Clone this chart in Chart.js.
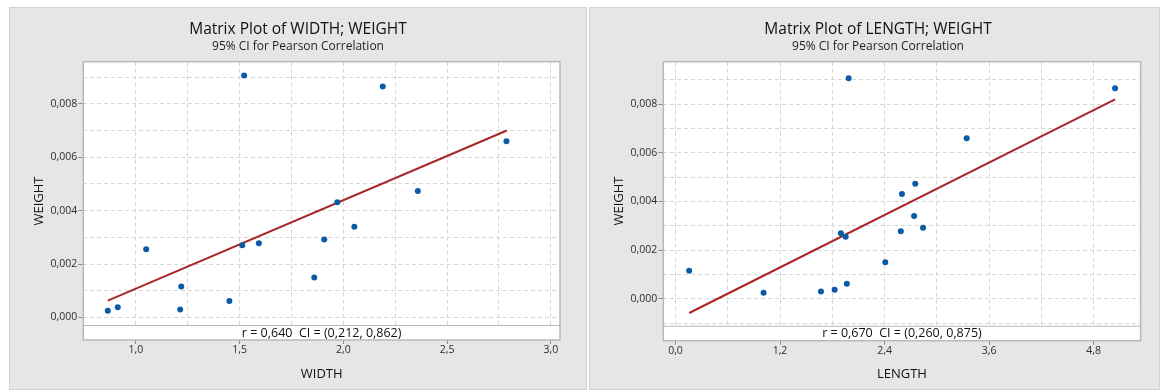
<!DOCTYPE html>
<html>
<head>
<meta charset="utf-8">
<script src="https://cdn.jsdelivr.net/npm/chart.js@4.4.1/dist/chart.umd.min.js"></script>
<style>
  body { margin: 0; background: #ffffff; }
  .panel {
    position: absolute;
    top: 7px;
    height: 383px;
    background: #e6e6e6;
    border: 1px solid #d2d2d2;
    box-sizing: border-box;
  }
  .panel canvas { position: absolute; top: -1px; left: -1px; }
</style>
</head>
<body>
<div class="panel" style="left:9px;width:578px;"><canvas id="width_weight" width="578" height="383"></canvas></div>
<div class="panel" style="left:589px;width:571px;"><canvas id="length_weight" width="571" height="383"></canvas></div>
<script>
// specimens
const weight = [0.00906, 0.00865, 0.00660, 0.00473, 0.00431, 0.00340, 0.00292, 0.00278,
                0.00270, 0.00255, 0.00150, 0.00116, 0.00062, 0.00030, 0.00038, 0.00025];
const width = [1.522, 2.190, 2.786, 2.359, 1.971, 2.053, 1.908, 1.593,
               1.513, 1.050, 1.860, 1.219, 1.451, 1.214, 0.913, 0.865];
const length = [1.988, 5.047, 3.343, 2.753, 2.600, 2.740, 2.842, 2.587,
                1.899, 1.954, 2.409, 0.157, 1.967, 1.670, 1.827, 1.011];

// fitted lines (end points)
const widthFitX = [0.865, 2.788];
const widthFitY = [0.00063, 0.00700];
const lengthFitX = [0.157, 5.047];
const lengthFitY = [-0.00058, 0.00819];

// tick labels
const weightTicks = [0.000, 0.002, 0.004, 0.006, 0.008];
const widthTicks = [1.0, 1.5, 2.0, 2.5, 3.0];
const lengthTicks = [0.0, 1.2, 2.4, 3.6, 4.8];

const FONT = "'Segoe UI', 'Open Sans', sans-serif";

function near(v, list) {
    return list.some(l => Math.abs(l - v) < 1e-9);
}

function gridValues(step, min, max) {
    const out = [];
    for (let i = Math.ceil(min / step - 1e-9); i * step <= max + 1e-12; i++) {
        out.push(+(i * step).toFixed(6));
    }
    return out;
}

const panelDecor = {
    id: 'panelDecor',
    beforeDraw(chart) {
        const {ctx, chartArea: a} = chart;
        ctx.save();
        ctx.fillStyle = '#ffffff';
        ctx.fillRect(a.left, a.top, a.right - a.left, a.bottom - a.top);
        ctx.restore();
    },
    beforeDatasetsDraw(chart, args, opts) {
        const {ctx, chartArea: a} = chart;
        const h = 15;
        ctx.save();
        ctx.fillStyle = '#ffffff';
        ctx.fillRect(a.left, a.bottom - h, a.right - a.left, h);
        ctx.strokeStyle = '#b8b8b8';
        ctx.lineWidth = 1;
        ctx.beginPath();
        ctx.moveTo(a.left, a.bottom - h + 0.5);
        ctx.lineTo(a.right, a.bottom - h + 0.5);
        ctx.stroke();
        ctx.fillStyle = '#111111';
        ctx.font = '12.5px ' + FONT;
        ctx.textAlign = 'center';
        ctx.textBaseline = 'middle';
        ctx.fillText(opts.stat, (a.left + a.right) / 2, a.bottom - h / 2 + 0.5);
        ctx.restore();
    },
    afterDraw(chart, args, opts) {
        const {ctx, chartArea: a} = chart;
        ctx.save();
        ctx.strokeStyle = '#b8b8b8';
        ctx.lineWidth = 1.5;
        ctx.strokeRect(a.left, a.top, a.right - a.left, a.bottom - a.top);

        ctx.textAlign = 'center';
        ctx.textBaseline = 'alphabetic';
        ctx.fillStyle = '#111111';
        ctx.font = '15.5px ' + FONT;
        ctx.fillText(opts.title, opts.titleX, 26.5);
        ctx.fillStyle = '#1e1e1e';
        ctx.font = '12px ' + FONT;
        ctx.fillText('95% CI for Pearson Correlation', opts.titleX, 42.5);

        ctx.fillStyle = '#111111';
        ctx.font = '13px ' + FONT;
        ctx.fillText(opts.xTitle, (a.left + a.right) / 2, a.bottom + 37.5);

        ctx.translate(30.5, 194);
        ctx.rotate(-Math.PI / 2);
        ctx.textBaseline = 'middle';
        ctx.fillText(opts.yTitle, 0, 0);
        ctx.restore();
    }
};

function makeChart(id, xs, fitX, fitY, xMin, xMax, xStep, xTicks, xDigits,
                   yMin, yMax, padRight, xHeight, labels) {
    const ctx = document.getElementById(id).getContext('2d');
    const points = xs.map((x, i) => ({x: x, y: weight[i]}));
    const fit = fitX.map((x, i) => ({x: x, y: fitY[i]}));

    return new Chart(ctx, {
        type: 'scatter',
        data: {
            datasets: [{
                data: points,
                backgroundColor: '#0b5aa8',
                borderWidth: 0,
                pointRadius: 3,
                pointHoverRadius: 3,
                order: 1
            }, {
                type: 'line',
                data: fit,
                borderColor: '#a8262a',
                borderWidth: 2,
                pointRadius: 0,
                fill: false,
                order: 2
            }]
        },
        options: {
            responsive: false,
            animation: false,
            layout: {padding: {left: 0, right: padRight, top: 54.7, bottom: 0}},
            plugins: {
                legend: {display: false},
                tooltip: {enabled: false},
                panelDecor: labels
            },
            scales: {
                x: {
                    type: 'linear',
                    min: xMin,
                    max: xMax,
                    border: {display: false, dash: [4, 3]},
                    afterFit: s => { s.height = xHeight; },
                    afterBuildTicks: s => {
                        s.ticks = gridValues(xStep, xMin, xMax).map(v => ({value: v}));
                    },
                    grid: {
                        color: '#d6d6d6',
                        tickLength: 4,
                        tickBorderDash: [],
                        tickColor: c => near(c.tick.value, xTicks) ? '#8c8c8c' : 'rgba(0,0,0,0)'
                    },
                    ticks: {
                        padding: 0,
                        color: '#2e2e2e',
                        font: {family: FONT, size: 10.5},
                        maxRotation: 0,
                        autoSkip: false,
                        callback: v => near(v, xTicks) ? v.toFixed(xDigits).replace('.', ',') : ''
                    }
                },
                y: {
                    type: 'linear',
                    min: yMin,
                    max: yMax,
                    border: {display: false, dash: [4, 3]},
                    afterFit: s => { s.width = 74.3; },
                    afterBuildTicks: s => {
                        s.ticks = gridValues(0.001, yMin, yMax).map(v => ({value: v}));
                    },
                    grid: {
                        color: '#d6d6d6',
                        tickLength: 5,
                        tickBorderDash: [],
                        tickColor: c => near(c.tick.value, weightTicks) ? '#8c8c8c' : 'rgba(0,0,0,0)'
                    },
                    ticks: {
                        padding: 1,
                        color: '#2e2e2e',
                        font: {family: FONT, size: 10.5},
                        autoSkip: false,
                        callback: v => near(v, weightTicks) ? v.toFixed(3).replace('.', ',') : ''
                    }
                }
            }
        },
        plugins: [panelDecor]
    });
}

makeChart('width_weight', width, widthFitX, widthFitY, 0.747, 3.044, 0.25, widthTicks, 1,
          -0.000844, 0.009574, 27, 50, {
              title: 'Matrix Plot of WIDTH; WEIGHT', titleX: 289,
              stat: 'r = 0,640  CI = (0,212, 0,862)', xTitle: 'WIDTH', yTitle: 'WEIGHT'
          });

makeChart('length_weight', length, lengthFitX, lengthFitY, -0.140, 5.340, 0.6, lengthTicks, 1,
          -0.001717, 0.00974, 19.4, 49.3, {
              title: 'Matrix Plot of LENGTH; WEIGHT', titleX: 289,
              stat: 'r = 0,670  CI = (0,260, 0,875)', xTitle: 'LENGTH', yTitle: 'WEIGHT'
          });
</script>
</body>
</html>
